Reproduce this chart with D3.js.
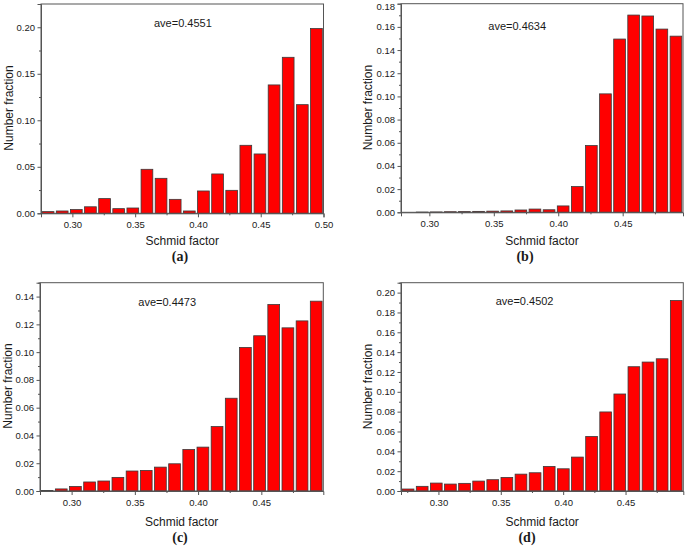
<!DOCTYPE html>
<html><head><meta charset="utf-8">
<script src="https://cdn.jsdelivr.net/npm/d3@7"></script>
<style>
html,body{margin:0;padding:0;background:#fff;}
svg{display:block;}
text{font-family:"Liberation Sans",Arial,sans-serif;fill:#1a1a1a;}
</style></head>
<body>
<svg id="chart" width="685" height="547"></svg>
<script>
// ---- data ----
const aveLabels = ["ave=0.4551", "ave=0.4634", "ave=0.4473", "ave=0.4502"];
const panelLabels = ["(a)", "(b)", "(c)", "(d)"];

// bin centres (Schmid factor) for each histogram
const binsA = [0.281,0.292,0.303,0.314,0.326,0.337,0.348,0.359,0.371,0.382,0.393,0.404,0.416,0.427,0.438,0.449,0.461,0.472,0.483,0.494];
const binsB = [0.283,0.294,0.305,0.316,0.327,0.338,0.349,0.360,0.371,0.382,0.393,0.403,0.414,0.425,0.436,0.447,0.458,0.469,0.480,0.491];
const binsC = [0.281,0.292,0.303,0.314,0.325,0.337,0.348,0.359,0.370,0.381,0.392,0.404,0.415,0.426,0.437,0.448,0.459,0.471,0.482,0.493];
const binsD = [0.276,0.287,0.298,0.310,0.321,0.332,0.344,0.355,0.366,0.378,0.389,0.400,0.411,0.423,0.434,0.445,0.457,0.468,0.479,0.491];

// number fractions
const valuesA = [0.0018,0.0025,0.0040,0.0070,0.0158,0.0050,0.0057,0.0473,0.0376,0.0150,0.0025,0.0240,0.0423,0.0247,0.0731,0.0638,0.1380,0.1677,0.1168,0.1986];
const valuesB = [0.0000,0.0002,0.0003,0.0005,0.0006,0.0008,0.0010,0.0012,0.0020,0.0028,0.0022,0.0055,0.0222,0.0576,0.1022,0.1495,0.1702,0.1694,0.1581,0.1520];
const valuesC = [0.0003,0.0015,0.0033,0.0065,0.0072,0.0098,0.0144,0.0148,0.0172,0.0196,0.0299,0.0316,0.0464,0.0668,0.1034,0.1118,0.1343,0.1175,0.1225,0.1367];
const valuesD = [0.0020,0.0047,0.0080,0.0070,0.0077,0.0100,0.0114,0.0137,0.0170,0.0184,0.0248,0.0224,0.0342,0.0550,0.0797,0.0978,0.1253,0.1300,0.1333,0.1920];

// axis domains
const xDomainA = [0.275, 0.500], yDomainA = [0, 0.225];
const xDomainB = [0.278, 0.4968], yDomainB = [0, 0.18];
const xDomainC = [0.275, 0.499], yDomainC = [0, 0.15];
const xDomainD = [0.270, 0.4963], yDomainD = [0, 0.21];

// tick labels
const xTicksA = [0.30, 0.35, 0.40, 0.45, 0.50];
const xTicksBCD = [0.30, 0.35, 0.40, 0.45];
const xMinor = [0.275, 0.325, 0.375, 0.425, 0.475];
const yTicksA = [0.00, 0.05, 0.10, 0.15, 0.20];
const yMinorA = [0.025, 0.075, 0.125, 0.175, 0.225];
const yTicksB = [0.00, 0.02, 0.04, 0.06, 0.08, 0.10, 0.12, 0.14, 0.16, 0.18];
const yTicksC = [0.00, 0.02, 0.04, 0.06, 0.08, 0.10, 0.12, 0.14];
const yTicksD = [0.00, 0.02, 0.04, 0.06, 0.08, 0.10, 0.12, 0.14, 0.16, 0.18, 0.20];
const yMinorBCD = [0.01, 0.03, 0.05, 0.07, 0.09, 0.11, 0.13, 0.15, 0.17, 0.19, 0.21];

// ---- layout ----
const panels = [
  {bins: binsA, values: valuesA, xd: xDomainA, yd: yDomainA, xt: xTicksA, yt: yTicksA, ym: yMinorA,
   l: 41, r: 323.5, t: 4, b: 213.3, ylabX: 13, ylabY: 108, xlabY: 245, capX: 180, capY: 261, aveX: 154, aveY: 26.5, label: 0},
  {bins: binsB, values: valuesB, xd: xDomainB, yd: yDomainB, xt: xTicksBCD, yt: yTicksB, ym: yMinorBCD,
   l: 401, r: 683, t: 3.7, b: 212.3, ylabX: 372, ylabY: 107.5, xlabY: 245, capX: 525, capY: 261, aveX: 488.3, aveY: 30, label: 1},
  {bins: binsC, values: valuesC, xd: xDomainC, yd: yDomainC, xt: xTicksBCD, yt: yTicksC, ym: yMinorBCD,
   l: 40, r: 323.3, t: 282.7, b: 491, ylabX: 12, ylabY: 386, xlabY: 525.5, capX: 180, capY: 542, aveX: 138.3, aveY: 305.6, label: 2},
  {bins: binsD, values: valuesD, xd: xDomainD, yd: yDomainD, xt: xTicksBCD, yt: yTicksD, ym: yMinorBCD,
   l: 401, r: 683.3, t: 282.7, b: 491, ylabX: 372, ylabY: 386.5, xlabY: 525.5, capX: 527, capY: 542, aveX: 495.7, aveY: 305, label: 3}
];

const svg = d3.select("#chart");
const fmt = d3.format(".2f");
const axisCol = "#555";

panels.forEach(p => {
  const g = svg.append("g");
  const x = d3.scaleLinear().domain(p.xd).range([p.l, p.r]);
  const y = d3.scaleLinear().domain(p.yd).range([p.b, p.t]);
  const band = d3.scaleBand().domain(p.bins).range([x(p.xd[0]), x(p.xd[1])])
    .paddingInner(0.17).paddingOuter(0.085);

  // bars
  g.append("g").selectAll("rect").data(p.values).join("rect")
    .attr("x", (d, i) => band(p.bins[i]))
    .attr("width", band.bandwidth())
    .attr("y", d => y(d))
    .attr("height", d => Math.max(0, y(0) - y(d)))
    .attr("fill", "#ff0000")
    .attr("stroke", "#3a3a3a")
    .attr("stroke-width", 0.8);

  // frame (top & right)
  g.append("rect").attr("x", p.l).attr("y", p.t).attr("width", p.r - p.l).attr("height", p.b - p.t)
    .attr("fill", "none").attr("stroke", axisCol).attr("stroke-width", 1);

  // y axis major
  const ya = g.append("g").attr("transform", `translate(${p.l},0)`)
    .call(d3.axisLeft(y).tickValues(p.yt).tickFormat(fmt).tickSize(3.5).tickPadding(2.5));
  ya.select(".domain").attr("stroke", axisCol);
  ya.selectAll(".tick line").attr("stroke", axisCol);
  ya.selectAll(".tick text").style("font-size", "9.5px").style("font-family", "Liberation Sans, Arial, sans-serif").attr("fill", "#1a1a1a");
  // keep a label at the very top edge inside the page
  ya.selectAll(".tick").each(function(d) {
    const ty = y(d);
    if (ty < 6) d3.select(this).select("text").attr("dy", (0.32 + (6 - ty) / 9.5) + "em");
  });
  // y axis minor
  const yma = g.append("g").attr("transform", `translate(${p.l},0)`)
    .call(d3.axisLeft(y).tickValues(p.ym.filter(v => v <= p.yd[1] + 1e-9)).tickFormat("").tickSize(2));
  yma.select(".domain").remove();
  yma.selectAll(".tick line").attr("stroke", axisCol);

  // x axis major
  const xa = g.append("g").attr("transform", `translate(0,${p.b})`)
    .call(d3.axisBottom(x).tickValues(p.xt).tickFormat(fmt).tickSize(4).tickPadding(4));
  xa.select(".domain").attr("stroke", axisCol);
  xa.selectAll(".tick line").attr("stroke", axisCol);
  xa.selectAll(".tick text").style("font-size", "9.5px").style("font-family", "Liberation Sans, Arial, sans-serif").attr("fill", "#1a1a1a");
  // x axis minor
  const xma = g.append("g").attr("transform", `translate(0,${p.b})`)
    .call(d3.axisBottom(x).tickValues(xMinor.filter(v => v >= p.xd[0] && v <= p.xd[1])).tickFormat("").tickSize(2));
  xma.select(".domain").remove();
  xma.selectAll(".tick line").attr("stroke", axisCol);

  // axis titles
  g.append("text").attr("x", (p.l + p.r) / 2).attr("y", p.xlabY).attr("text-anchor", "middle")
    .style("font-size", "12px").text("Schmid factor");
  g.append("text").attr("transform", `translate(${p.ylabX},${p.ylabY}) rotate(-90)`).attr("text-anchor", "middle")
    .style("font-size", "12px").text("Number fraction");

  // average annotation
  g.append("text").attr("x", p.aveX).attr("y", p.aveY).style("font-size", "11px").text(aveLabels[p.label]);

  // panel caption
  g.append("text").attr("x", p.capX).attr("y", p.capY).attr("text-anchor", "middle")
    .style("font-family", "Liberation Serif, Times New Roman, serif").style("font-weight", "bold")
    .style("font-size", "14px").text(panelLabels[p.label]);
});
</script>
</body></html>
